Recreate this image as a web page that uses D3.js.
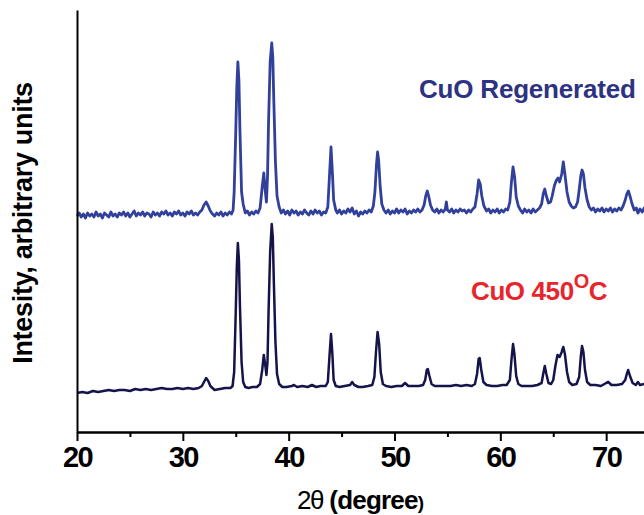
<!DOCTYPE html>
<html>
<head>
<meta charset="utf-8">
<script src="https://cdn.jsdelivr.net/npm/d3@7"></script>
<style>
  body { margin: 0; background: #fff; }
  svg { display: block; font-family: "Liberation Sans", Arial, sans-serif; }
  .tick text { font-size: 29px; font-weight: bold; letter-spacing: -1.5px; fill: #000; }
  .domain, .tick line { stroke: #000; stroke-width: 2px; }
</style>
</head>
<body>
<div id="chart"></div>
<script>
// chart data: [2theta, intensity (a.u.)]
var cuo450 = [
  [20.0,39],[20.5,40],[21.0,39],[21.5,41],[22.0,40],[22.5,41],[23.0,42],[23.5,41],[24.0,42],[24.5,42],
  [25.0,41],[25.5,43],[26.0,42],[26.5,43],[27.0,42],[27.5,43],[28.0,44],[28.5,43],[29.0,43],[29.5,44],
  [30.0,43],[30.5,44],[31.0,43],[31.5,44],[31.8,46],[32.0,50],[32.2,54],[32.4,51],[32.6,46],[32.8,44],
  [33.0,42],[33.5,43],[34.0,44],[34.5,44],[34.7,46],[34.85,60],[35.0,120],[35.1,165],[35.2,189],[35.3,172],
  [35.4,125],[35.55,70],[35.7,50],[35.9,45],[36.2,44],[36.6,45],[37.0,45],[37.3,48],[37.5,62],[37.65,77],
  [37.8,66],[37.9,57],[38.0,70],[38.1,120],[38.25,180],[38.4,208],[38.5,195],[38.6,150],[38.75,90],[38.9,58],
  [39.1,48],[39.4,45],[39.8,45],[40.3,46],[40.5,47],[40.8,45],[41.3,46],[41.8,45],[42.2,47],[42.6,45],
  [43.0,46],[43.5,46],[43.7,50],[43.85,75],[44.0,98],[44.12,80],[44.25,52],[44.45,46],[44.8,45],[45.3,46],
  [45.8,47],[46.0,50],[46.2,47],[46.6,45],[47.0,45],[47.5,46],[47.9,47],[48.1,55],[48.25,80],[48.4,100],
  [48.55,88],[48.7,60],[48.9,48],[49.2,46],[49.7,45],[50.2,46],[50.7,46],[51.0,49],[51.3,46],[51.8,46],
  [52.3,46],[52.7,47],[52.9,52],[53.05,62],[53.15,63],[53.3,56],[53.5,48],[53.8,46],[54.3,46],[54.8,46],
  [55.3,46],[55.8,47],[56.3,46],[56.8,47],[57.3,46],[57.6,48],[57.8,58],[57.95,73],[58.05,74],[58.2,62],
  [58.4,50],[58.7,47],[59.2,46],[59.7,46],[60.2,47],[60.6,47],[60.9,52],[61.05,72],[61.2,88],[61.33,78],
  [61.5,56],[61.7,48],[62.0,46],[62.5,46],[63.0,46],[63.5,47],[63.9,49],[64.05,58],[64.2,66],[64.35,58],
  [64.55,49],[64.8,48],[65.0,52],[65.2,66],[65.4,77],[65.6,75],[65.8,80],[65.95,85],[66.1,78],[66.3,60],
  [66.5,50],[66.8,47],[67.2,48],[67.45,55],[67.6,75],[67.72,86],[67.85,80],[68.0,62],[68.2,50],[68.5,47],
  [69.0,47],[69.5,46],[70.0,49],[70.2,50],[70.5,47],[71.0,47],[71.5,48],[71.8,52],[71.95,58],[72.08,62],
  [72.25,56],[72.5,49],[72.8,47],[73.0,50],[73.2,47],[73.6,48],[74.0,48]
];

var cuoRegen = [
  [20.0,216],[20.2,219],[20.4,215],[20.6,218],[20.8,214],[21.0,219],[21.2,216],[21.4,218],[21.6,215],[21.8,220],
  [22.0,216],[22.2,218],[22.4,214],[22.6,219],[22.8,217],[23.0,215],[23.2,220],[23.4,216],[23.6,218],[23.8,215],
  [24.0,219],[24.2,217],[24.4,220],[24.6,216],[24.8,219],[25.0,215],[25.2,218],[25.4,221],[25.6,216],[25.8,219],
  [26.0,217],[26.2,220],[26.4,216],[26.6,219],[26.8,218],[27.0,215],[27.2,220],[27.4,217],[27.6,219],[27.8,216],
  [28.0,220],[28.2,218],[28.4,221],[28.6,217],[28.8,219],[29.0,216],[29.2,220],[29.4,218],[29.6,221],[29.8,217],
  [30.0,219],[30.2,216],[30.4,220],[30.6,218],[30.8,221],[31.0,217],[31.2,219],[31.4,217],[31.6,220],[31.8,222],
  [32.0,227],[32.2,230],[32.4,226],[32.6,221],[32.8,218],[33.0,216],[33.2,219],[33.4,217],[33.6,220],[33.8,216],
  [34.0,219],[34.2,217],[34.4,220],[34.6,218],[34.75,222],[34.85,240],[35.0,300],[35.1,345],[35.2,370],[35.3,352],
  [35.4,300],[35.55,240],[35.7,228],[35.9,219],[36.1,221],[36.3,217],[36.5,220],[36.7,218],[36.9,221],[37.1,219],
  [37.3,224],[37.5,245],[37.65,259],[37.8,240],[37.9,230],[38.0,255],[38.1,310],[38.25,370],[38.4,389],[38.5,375],
  [38.6,330],[38.75,270],[38.9,236],[39.1,225],[39.3,219],[39.5,222],[39.7,218],[39.9,221],[40.1,217],[40.3,222],
  [40.5,219],[40.7,221],[40.9,217],[41.1,220],[41.3,218],[41.5,222],[41.7,219],[41.9,217],[42.1,221],[42.3,218],
  [42.5,222],[42.7,219],[42.9,221],[43.1,217],[43.3,220],[43.5,219],[43.7,225],[43.85,255],[44.0,285],[44.12,262],
  [44.25,232],[44.45,222],[44.6,219],[44.8,222],[45.0,218],[45.2,221],[45.4,219],[45.6,223],[45.8,220],[46.0,224],
  [46.2,218],[46.4,221],[46.6,216],[46.8,220],[47.0,218],[47.2,221],[47.4,219],[47.6,222],[47.8,220],[48.0,226],
  [48.15,240],[48.3,268],[48.4,280],[48.5,272],[48.65,245],[48.8,228],[49.0,222],[49.2,219],[49.4,222],[49.6,218],
  [49.8,221],[50.0,219],[50.2,223],[50.4,219],[50.6,222],[50.8,220],[51.0,223],[51.2,218],[51.4,221],[51.6,219],
  [51.8,222],[52.0,220],[52.2,223],[52.4,220],[52.6,222],[52.8,227],[52.95,236],[53.1,241],[53.25,235],[53.4,227],
  [53.6,222],[53.8,220],[54.0,223],[54.2,219],[54.4,222],[54.6,220],[54.8,223],[54.9,230],[55.0,222],[55.2,220],
  [55.4,223],[55.6,219],[55.8,222],[56.0,220],[56.2,223],[56.4,221],[56.6,222],[56.8,219],[57.0,222],[57.2,220],
  [57.4,223],[57.6,225],[57.8,238],[57.95,252],[58.1,248],[58.25,236],[58.45,226],[58.7,221],[58.9,223],[59.1,219],
  [59.3,222],[59.5,220],[59.7,223],[59.9,219],[60.1,222],[60.3,220],[60.5,223],[60.7,222],[60.9,230],[61.05,250],
  [61.2,265],[61.35,255],[61.5,235],[61.7,226],[61.9,222],[62.1,219],[62.3,223],[62.5,220],[62.7,222],[62.9,219],
  [63.1,223],[63.3,220],[63.5,222],[63.7,224],[63.9,228],[64.05,238],[64.2,243],[64.35,236],[64.55,229],[64.75,230],
  [64.9,236],[65.1,246],[65.3,252],[65.45,254],[65.6,250],[65.8,258],[65.95,270],[66.1,258],[66.3,240],[66.5,230],
  [66.7,226],[66.9,224],[67.1,225],[67.3,230],[67.45,242],[67.6,256],[67.72,262],[67.85,258],[68.0,244],[68.2,232],
  [68.4,225],[68.6,222],[68.8,224],[69.0,220],[69.2,223],[69.4,221],[69.6,224],[69.8,220],[70.0,223],[70.2,221],
  [70.4,224],[70.6,220],[70.8,223],[71.0,221],[71.2,224],[71.4,222],[71.6,226],[71.8,232],[71.95,238],[72.1,241],
  [72.25,236],[72.45,228],[72.65,222],[72.85,224],[73.0,219],[73.2,223],[73.4,220],[73.6,224],[73.8,221],[74.0,223]
];

var majorTicks = [20, 30, 40, 50, 60, 70];
var minorTicks = [25, 35, 45, 55, 65, 75];

var svgWidth = 644;
var svgHeight = 515;

var svg = d3.select("#chart")
  .append("svg")
  .attr("width", svgWidth)
  .attr("height", svgHeight);

// scales (x runs past the right edge, the picture is cropped there)
var x = d3.scaleLinear().domain([20, 80]).range([77, 712]);
var y = d3.scaleLinear().domain([0, 422]).range([432, 10]);

var line = d3.line()
  .x(d => x(d[0]))
  .y(d => y(d[1]));

svg.append("path")
  .datum(cuoRegen)
  .attr("fill", "none")
  .attr("stroke", "#31409a")
  .attr("stroke-width", 2.8)
  .attr("stroke-linejoin", "round")
  .attr("d", line);

svg.append("path")
  .datum(cuo450)
  .attr("fill", "none")
  .attr("stroke", "#14144a")
  .attr("stroke-width", 2.5)
  .attr("stroke-linejoin", "round")
  .attr("d", line);

// axes
svg.append("g")
  .attr("transform", "translate(0,432)")
  .call(d3.axisBottom(x).tickValues(minorTicks).tickSize(5).tickSizeOuter(0).tickFormat(""));

var xAxis = svg.append("g")
  .attr("transform", "translate(0,432)")
  .call(d3.axisBottom(x).tickValues(majorTicks).tickSize(9).tickSizeOuter(0).tickFormat(d3.format("d")));
xAxis.selectAll(".tick text").attr("dy", null).attr("y", 35);

svg.append("g")
  .attr("transform", "translate(77,0)")
  .call(d3.axisLeft(y).tickValues([]).tickSizeOuter(0));

// axis titles
svg.append("text")
  .attr("transform", "translate(32,223) rotate(-90)")
  .attr("text-anchor", "middle")
  .attr("font-size", "27px")
  .attr("font-weight", "bold")
  .attr("letter-spacing", "-0.3px")
  .text("Intesity, arbitrary units");

var xTitle = svg.append("text")
  .attr("x", 297)
  .attr("y", 509)
  .attr("font-size", "26px")
  .attr("font-weight", "bold");
xTitle.append("tspan").attr("font-weight", "normal").attr("letter-spacing", "-1.5px").text("2θ");
xTitle.append("tspan").attr("letter-spacing", "-0.8px").text(" (degree");
xTitle.append("tspan").attr("font-size", "19px").text(")");

// series labels
svg.append("text")
  .attr("x", 419)
  .attr("y", 98)
  .attr("font-size", "26px")
  .attr("font-weight", "bold")
  .attr("letter-spacing", "-0.2px")
  .attr("fill", "#2d3282")
  .text("CuO Regenerated");

var redLabel = svg.append("text")
  .attr("x", 471)
  .attr("y", 300)
  .attr("font-size", "26px")
  .attr("font-weight", "bold")
  .attr("letter-spacing", "-0.4px")
  .attr("fill", "#e8252b");
redLabel.append("tspan").text("CuO 450");
redLabel.append("tspan").attr("font-size", "20px").attr("dy", -12).text("O");
redLabel.append("tspan").attr("dy", 12).text("C");
</script>
</body>
</html>
